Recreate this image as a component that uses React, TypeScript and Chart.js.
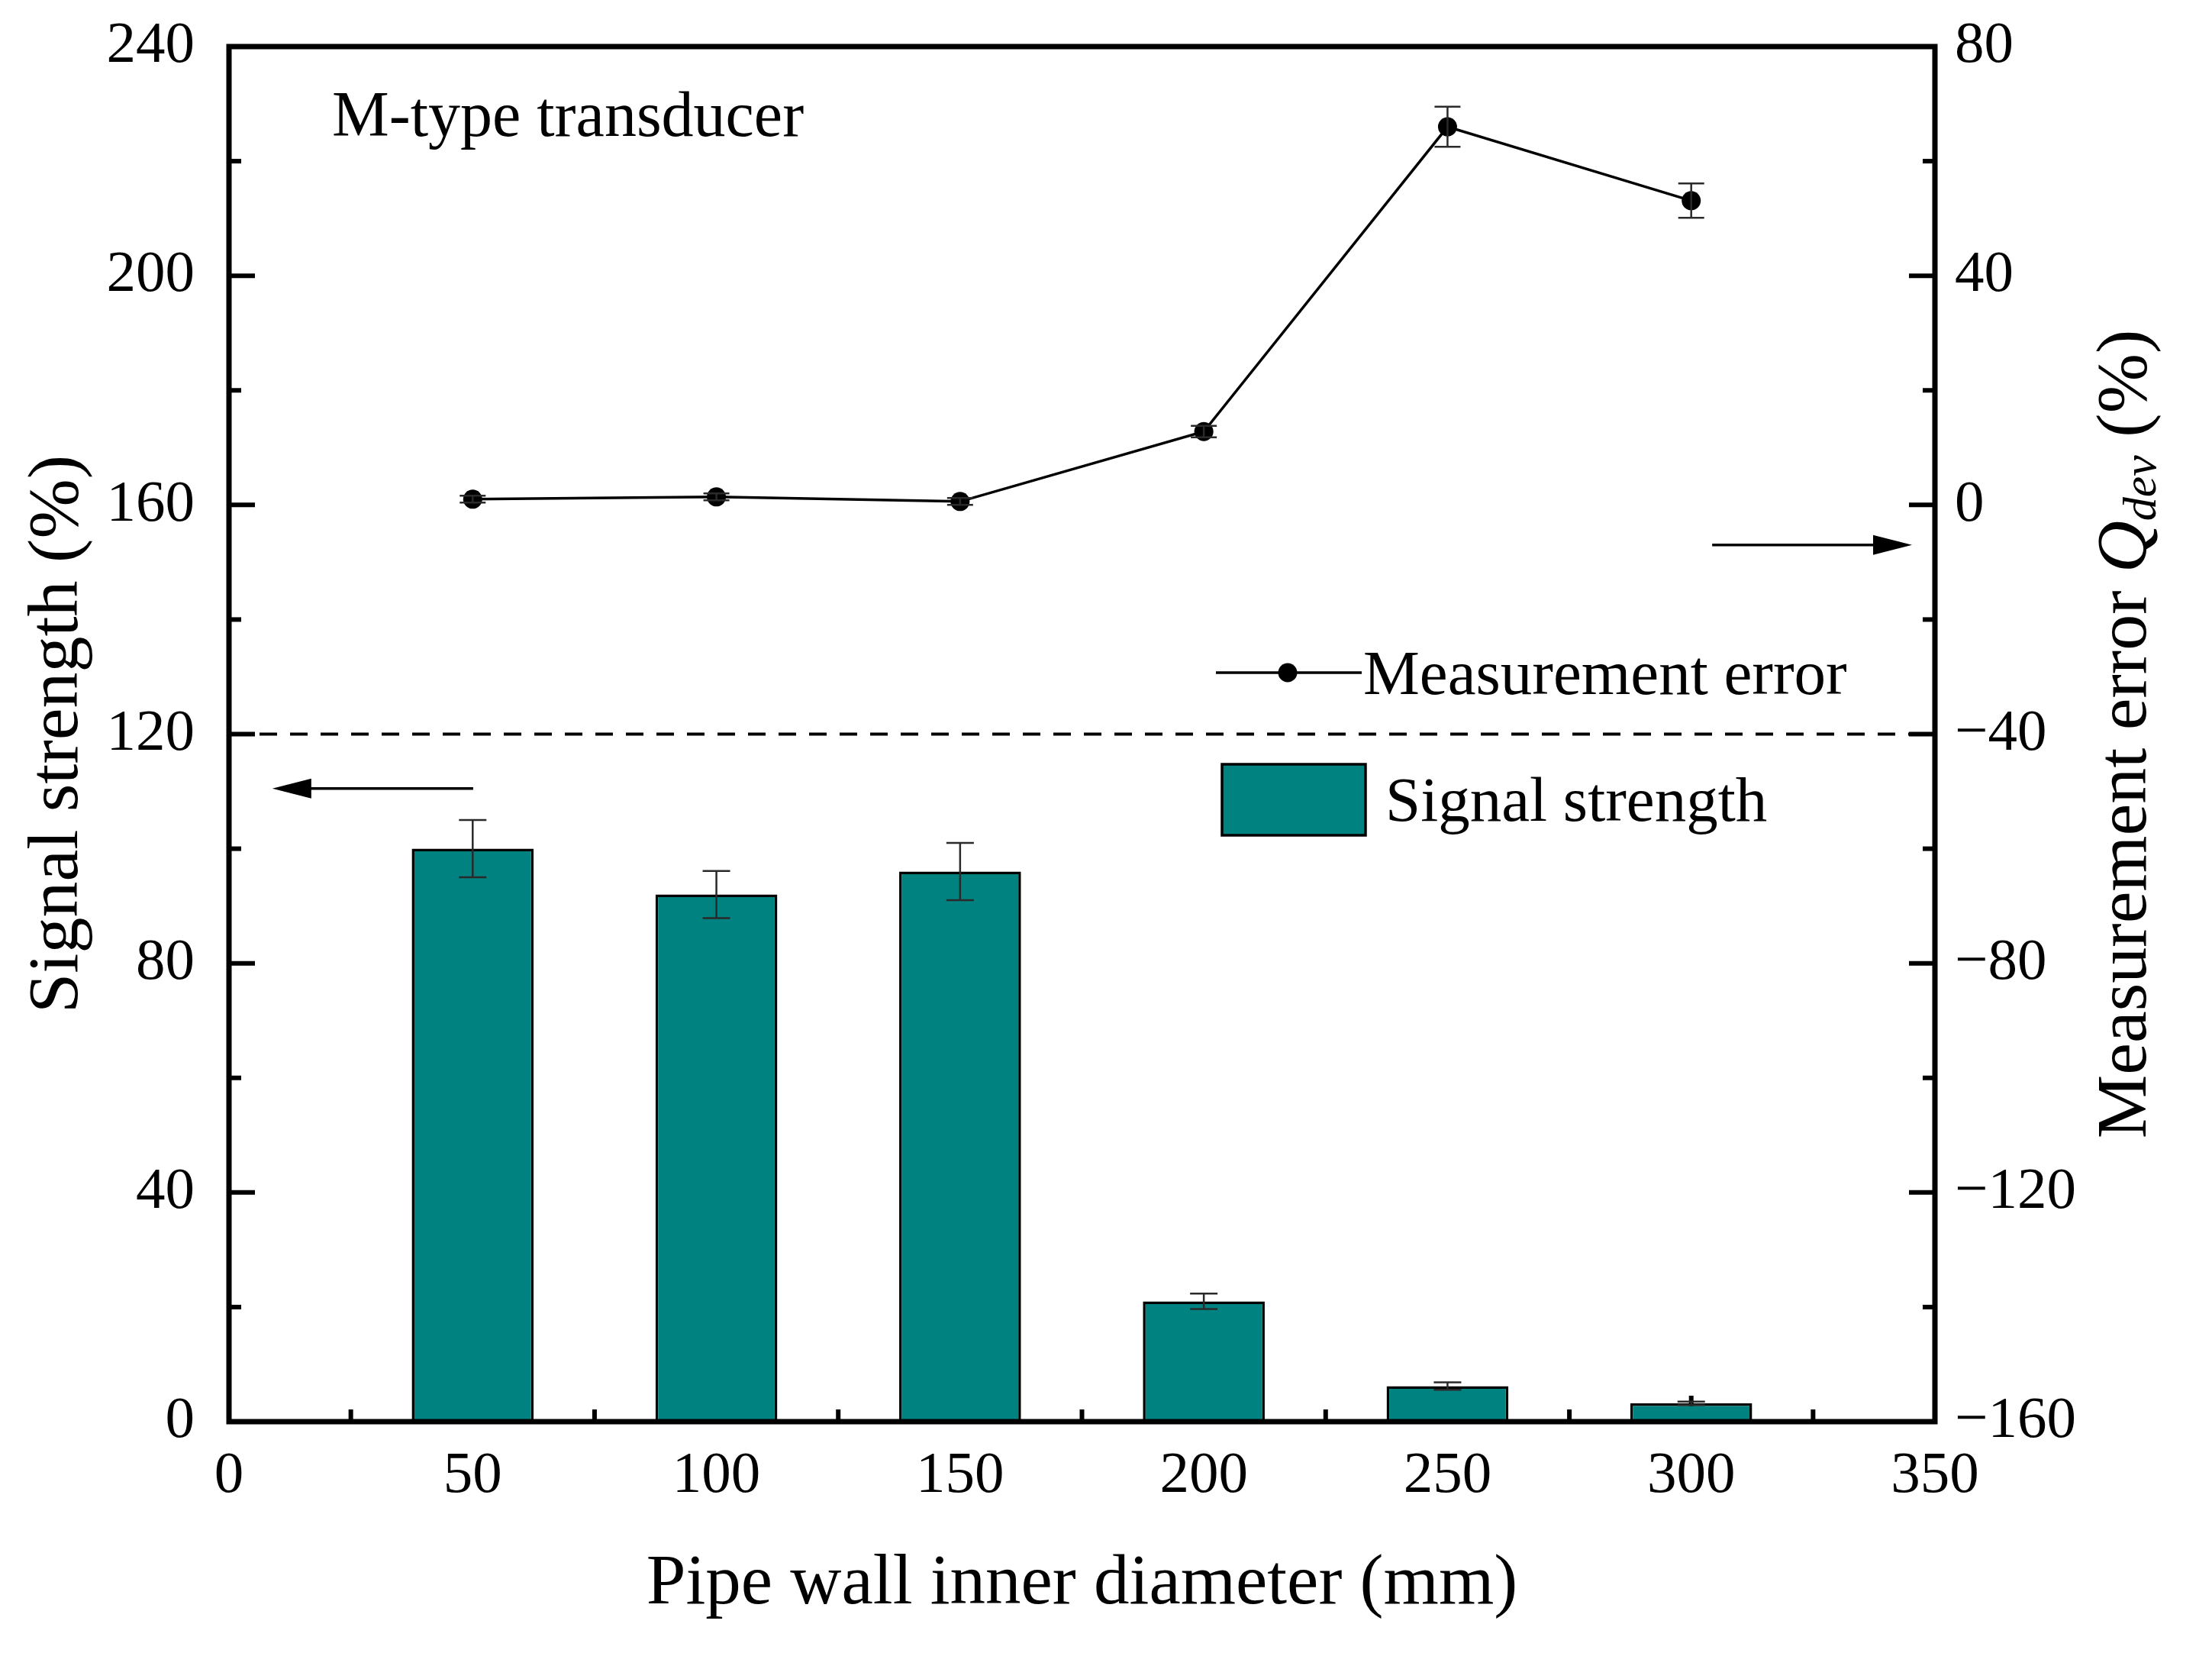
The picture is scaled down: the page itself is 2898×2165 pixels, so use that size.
import React, { useEffect, useRef } from "react";
import { Chart, registerables } from "chart.js";

Chart.register(...registerables);

// ---- data ----
const diameters = [50, 100, 150, 200, 250, 300];
const signalStrength = [100, 92, 96, 21, 6.2, 3.2];
const signalStrengthErr = [5, 4.1, 5, 1.35, 0.65, 0.3];
const measurementError = [1.0, 1.4, 0.6, 12.8, 66, 53.1];
const measurementErrorErr = [0.6, 0.6, 0.6, 1.0, 3.5, 3];
const xTickValues = [0, 50, 100, 150, 200, 250, 300, 350];
const leftTickValues = [0, 40, 80, 120, 160, 200, 240];
const rightTickValues = [-160, -120, -80, -40, 0, 40, 80];
const dividerLevel = 120; // dashed line on left axis
const leftArrow = { y: 110.5, xFrom: 50.1, xTo: 8.9 }; // left-axis units
const rightArrow = { y: -7.0, xFrom: 304.3, xTo: 345.3 }; // right-axis units

const FONT = "'Liberation Serif', 'Times New Roman', serif";
const BAR_COLOR = "rgb(0,131,128)";

const W = 2898;
const H = 2165;

const decorPlugin = {
  id: "decor",
  beforeDatasetsDraw(chart: any) {
    const { ctx, chartArea } = chart;
    const x = chart.scales.x;
    const y = chart.scales.y;
    const y2 = chart.scales.y2;
    ctx.save();
    // dashed divider
    ctx.strokeStyle = "#000";
    ctx.lineWidth = 4;
    ctx.setLineDash([23, 17]);
    const yd = y.getPixelForValue(dividerLevel);
    ctx.beginPath();
    ctx.moveTo(chartArea.left, yd);
    ctx.lineTo(chartArea.right, yd);
    ctx.stroke();
    ctx.setLineDash([]);

    // inward ticks
    ctx.lineWidth = 6;
    const major = 34;
    const minor = 16;
    const drawY = (scale: any, vals: number[], side: "l" | "r") => {
      for (let i = 0; i < vals.length; i++) {
        const p = scale.getPixelForValue(vals[i]);
        const x0 = side === "l" ? chartArea.left : chartArea.right;
        const d = side === "l" ? 1 : -1;
        ctx.beginPath();
        ctx.moveTo(x0, p);
        ctx.lineTo(x0 + d * major, p);
        ctx.stroke();
        if (i < vals.length - 1) {
          const pm = scale.getPixelForValue((vals[i] + vals[i + 1]) / 2);
          ctx.beginPath();
          ctx.moveTo(x0, pm);
          ctx.lineTo(x0 + d * minor, pm);
          ctx.stroke();
        }
      }
    };
    drawY(y, leftTickValues, "l");
    drawY(y2, rightTickValues, "r");
    for (let i = 0; i < xTickValues.length; i++) {
      const p = x.getPixelForValue(xTickValues[i]);
      ctx.beginPath();
      ctx.moveTo(p, chartArea.bottom);
      ctx.lineTo(p, chartArea.bottom - major);
      ctx.stroke();
      if (i < xTickValues.length - 1) {
        const pm = x.getPixelForValue((xTickValues[i] + xTickValues[i + 1]) / 2);
        ctx.beginPath();
        ctx.moveTo(pm, chartArea.bottom);
        ctx.lineTo(pm, chartArea.bottom - minor);
        ctx.stroke();
      }
    }
    ctx.restore();
  },
  afterDatasetsDraw(chart: any) {
    const { ctx, chartArea } = chart;
    const x = chart.scales.x;
    const y = chart.scales.y;
    const y2 = chart.scales.y2;
    ctx.save();
    // error bars
    ctx.strokeStyle = "#2a2a2a";
    ctx.lineWidth = 2.5;
    const errBar = (xv: number, v: number, e: number, scale: any, cap: number) => {
      const px = x.getPixelForValue(xv);
      const a = scale.getPixelForValue(v - e);
      const b = scale.getPixelForValue(v + e);
      ctx.beginPath();
      ctx.moveTo(px, a);
      ctx.lineTo(px, b);
      ctx.moveTo(px - cap, a);
      ctx.lineTo(px + cap, a);
      ctx.moveTo(px - cap, b);
      ctx.lineTo(px + cap, b);
      ctx.stroke();
    };
    diameters.forEach((d, i) => {
      errBar(d, signalStrength[i], signalStrengthErr[i], y, 18);
      errBar(d, measurementError[i], measurementErrorErr[i], y2, 17);
    });

    // frame
    ctx.strokeStyle = "#000";
    ctx.lineWidth = 7;
    ctx.strokeRect(chartArea.left, chartArea.top, chartArea.right - chartArea.left, chartArea.bottom - chartArea.top);

    // arrows
    const arrow = (x1: number, x2: number, py: number) => {
      const hl = 51;
      const hw = 13;
      const dir = x2 > x1 ? 1 : -1;
      ctx.lineWidth = 3.5;
      ctx.beginPath();
      ctx.moveTo(x1, py);
      ctx.lineTo(x2 - dir * hl * 0.8, py);
      ctx.stroke();
      ctx.beginPath();
      ctx.moveTo(x2, py);
      ctx.lineTo(x2 - dir * hl, py - hw);
      ctx.lineTo(x2 - dir * hl, py + hw);
      ctx.closePath();
      ctx.fillStyle = "#000";
      ctx.fill();
    };
    arrow(x.getPixelForValue(leftArrow.xFrom), x.getPixelForValue(leftArrow.xTo), y.getPixelForValue(leftArrow.y));
    arrow(x.getPixelForValue(rightArrow.xFrom), x.getPixelForValue(rightArrow.xTo), y2.getPixelForValue(rightArrow.y));

    // annotation text
    ctx.fillStyle = "#000";
    ctx.textBaseline = "middle";
    ctx.textAlign = "left";
    ctx.font = `84px ${FONT}`;
    ctx.fillText("M-type transducer", 435, 156);

    // legend: line
    ctx.font = `83px ${FONT}`;
    ctx.lineWidth = 3.5;
    ctx.beginPath();
    ctx.moveTo(1593, 881);
    ctx.lineTo(1784, 881);
    ctx.stroke();
    ctx.beginPath();
    ctx.arc(1687, 881, 12.5, 0, Math.PI * 2);
    ctx.fill();
    ctx.fillText("Measurement error", 1786, 887);
    // legend: bar
    ctx.fillStyle = BAR_COLOR;
    ctx.fillRect(1601, 1001, 188, 93);
    ctx.lineWidth = 3.5;
    ctx.strokeRect(1601, 1001, 188, 93);
    ctx.fillStyle = "#000";
    ctx.fillText("Signal strength", 1815, 1053);

    // right axis title with italic Q_dev
    const cx = 2786;
    const cy = (chartArea.top + chartArea.bottom) / 2;
    ctx.translate(cx, cy);
    ctx.rotate(-Math.PI / 2);
    const parts = [
      { t: "Measurement error ", f: `94px ${FONT}`, dy: 0 },
      { t: "Q", f: `italic 94px ${FONT}`, dy: 0 },
      { t: "dev", f: `italic 62px ${FONT}`, dy: 22 },
      { t: " (%)", f: `94px ${FONT}`, dy: 0 },
    ];
    let total = 0;
    const widths = parts.map((p) => {
      ctx.font = p.f;
      const w = ctx.measureText(p.t).width;
      total += w;
      return w;
    });
    let px = -total / 2;
    parts.forEach((p, i) => {
      ctx.font = p.f;
      ctx.fillText(p.t, px, p.dy);
      px += widths[i];
    });
    ctx.restore();
  },
};

const zeroPad = (s: any) => {
  s.paddingTop = 0;
  s.paddingBottom = 0;
  s.paddingLeft = 0;
  s.paddingRight = 0;
};

export default function App() {
  const ref = useRef<HTMLCanvasElement | null>(null);
  useEffect(() => {
    document.body.style.margin = "0";
    const canvas = ref.current;
    if (!canvas) return;
    const chart = new Chart(canvas, {
      type: "bar",
      data: {
        datasets: [
          {
            type: "line",
            label: "Measurement error",
            data: diameters.map((d, i) => ({ x: d, y: measurementError[i] })),
            yAxisID: "y2",
            xAxisID: "x",
            borderColor: "#000",
            borderWidth: 3.5,
            backgroundColor: "#000",
            pointRadius: 12.5,
            pointBackgroundColor: "#000",
            pointBorderWidth: 0,
            tension: 0,
            order: 0,
          } as any,
          {
            type: "bar",
            label: "Signal strength",
            data: diameters.map((d, i) => ({ x: d, y: signalStrength[i] })),
            yAxisID: "y",
            xAxisID: "x",
            backgroundColor: BAR_COLOR,
            borderColor: "#000",
            borderWidth: 3.5,
            categoryPercentage: 0.5,
            barPercentage: 1,
            order: 1,
          } as any,
        ],
      },
      options: {
        animation: false,
        responsive: false,
        devicePixelRatio: 1,
        layout: { padding: { top: 61, left: 0, right: 0, bottom: 0 } },
        plugins: { legend: { display: false }, tooltip: { enabled: false } },
        scales: {
          x: {
            type: "linear",
            position: "bottom",
            min: 0,
            max: 350,
            offset: false,
            grid: { display: false, drawTicks: false, offset: false },
            border: { display: false },
            afterBuildTicks: (s: any) => {
              s.ticks = xTickValues.map((v) => ({ value: v }));
            },
            afterFit: (s: any) => {
              s.height = 303;
              zeroPad(s);
            },
            ticks: { font: { family: FONT, size: 77 }, color: "#000", padding: 26, maxRotation: 0, autoSkip: false },
            title: {
              display: true,
              text: "Pipe wall inner diameter (mm)",
              font: { family: FONT, size: 93 },
              color: "#000",
              padding: { top: 0, bottom: 34 },
            },
          },
          y: {
            type: "linear",
            position: "left",
            min: 0,
            max: 240,
            grid: { display: false, drawTicks: false },
            border: { display: false },
            afterBuildTicks: (s: any) => {
              s.ticks = leftTickValues.map((v) => ({ value: v }));
            },
            afterFit: (s: any) => {
              s.width = 300;
              zeroPad(s);
            },
            ticks: { font: { family: FONT, size: 77 }, color: "#000", padding: 45 },
            title: {
              display: true,
              text: "Signal strength (%)",
              font: { family: FONT, size: 94 },
              color: "#000",
              padding: { top: 20, bottom: 0 },
            },
          },
          y2: {
            type: "linear",
            position: "right",
            min: -160,
            max: 80,
            grid: { display: false, drawTicks: false },
            border: { display: false },
            afterBuildTicks: (s: any) => {
              s.ticks = rightTickValues.map((v) => ({ value: v }));
            },
            afterFit: (s: any) => {
              s.width = 363;
              zeroPad(s);
            },
            ticks: {
              font: { family: FONT, size: 77 },
              color: "#000",
              padding: 26,
              callback: (v: any) => (Number(v) < 0 ? "\u2212" + Math.abs(Number(v)) : String(v)),
            },
          },
        },
      } as any,
      plugins: [decorPlugin],
    });
    return () => chart.destroy();
  }, []);
  return (
    <div style={{ width: W, height: H, background: "#fff" }}>
      <canvas ref={ref} width={W} height={H} style={{ display: "block" }} />
    </div>
  );
}
